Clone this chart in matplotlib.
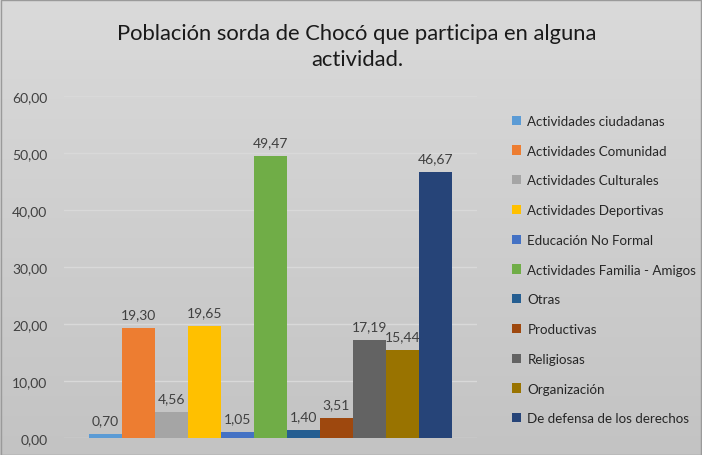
import matplotlib
matplotlib.use("Agg")
import matplotlib.pyplot as plt
import numpy as np
from matplotlib.patches import Rectangle

categories = ["Actividades ciudadanas", "Actividades Comunidad", "Actividades Culturales",
              "Actividades Deportivas", "Educación No Formal", "Actividades Familia - Amigos",
              "Otras", "Productivas", "Religiosas", "Organización", "De defensa de los derechos"]
values = [0.70, 19.30, 4.56, 19.65, 1.05, 49.47, 1.40, 3.51, 17.19, 15.44, 46.67]
colors = ["#5B9BD5", "#ED7D31", "#A5A5A5", "#FFC000", "#4472C4", "#70AD47",
          "#255E91", "#9E480E", "#636363", "#997300", "#264478"]
yticks = [0, 10, 20, 30, 40, 50, 60]
title = "Población sorda de Chocó que participa en alguna\nactividad."

plt.rcParams['font.family'] = ['Lato', 'DejaVu Sans']

W, H = 702, 456
fig = plt.figure(figsize=(W/100, H/100), dpi=100)

# gradient background
bg = fig.add_axes([0, 0, 1, 1], zorder=-10)
grad = np.linspace(0, 1, 256).reshape(-1, 1)
top = np.array([0.855, 0.855, 0.855])
bot = np.array([0.765, 0.765, 0.765])
img = top + (bot - top) * grad[..., None]
img = np.repeat(img, 2, axis=1)
bg.imshow(img, aspect='auto', extent=[0, 1, 0, 1])
bg.set_xlim(0, 1); bg.set_ylim(0, 1)
bg.axis('off')
bg.add_patch(Rectangle((0.5/W, 0.5/H), 1 - 1.5/W, 1 - 1.5/H, fill=False,
                       edgecolor="#9a9a9a", linewidth=1.0, transform=bg.transAxes))

# plot area in pixels: x 64..477, y 97..439
x0, x1 = 64, 477
ytop, ybot = 97, 439
ax = fig.add_axes([x0/W, 1 - ybot/H, (x1 - x0)/W, (ybot - ytop)/H])
ax.patch.set_alpha(0)

n = len(values)
bw = 33/413
start = 0.5 - n*bw/2
xs = [start + (i + 0.5)*bw for i in range(n)]
for i, (x, v, c, lab) in enumerate(zip(xs, values, colors, categories)):
    ax.bar(x, v, width=bw, color=c, label=lab, zorder=3)
    ax.text(x, v + 1.3, f"{v:.2f}".replace('.', ','), ha='center', va='bottom',
            fontsize=10, color="#404040", zorder=4)

ax.set_xlim(0, 1)
ax.set_ylim(0, 60)
ax.set_yticks(yticks)
ax.set_yticklabels([f"{t:.2f}".replace('.', ',') for t in yticks], fontsize=10, color="#404040")
ax.set_xticks([])
ax.grid(axis='y', color="#d9d9d9", linewidth=1.0, zorder=0)
for s in ax.spines.values():
    s.set_visible(False)
ax.tick_params(axis='y', length=0, pad=12)

fig.text(357/W, 1 - 47/H, title, ha='center', va='center', fontsize=15.8, color="#1a1a1a",
         linespacing=1.4)

handles, labels = ax.get_legend_handles_labels()
leg = fig.legend(handles, labels, loc='upper left', bbox_to_anchor=(500/W, 1 - 104/H),
                 frameon=False, fontsize=9.6, handlelength=0.7, handleheight=0.7,
                 handletextpad=0.45, labelspacing=1.33, labelcolor="#262626")

fig.savefig("out.png", dpi=100)
